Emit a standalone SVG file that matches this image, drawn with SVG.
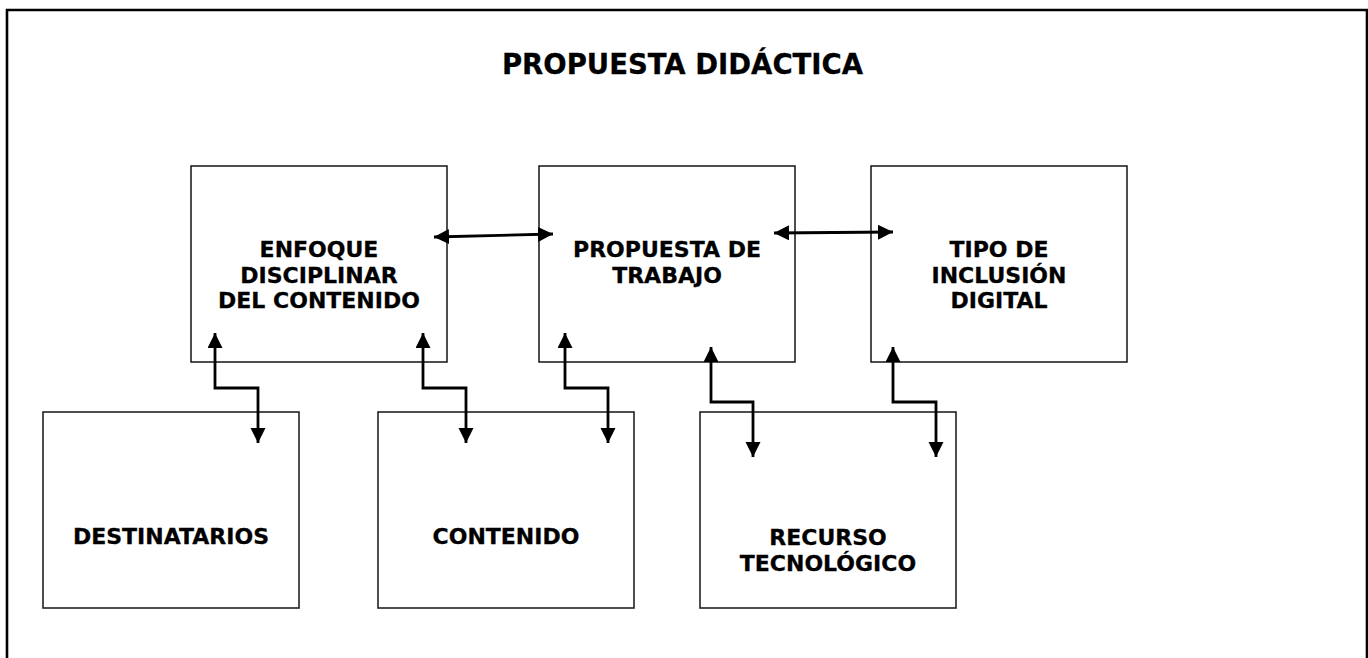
<svg xmlns="http://www.w3.org/2000/svg" width="1368" height="658" viewBox="0 0 1368 658">
<defs>
<style>
.box{fill:#fff;stroke:#222;stroke-width:1.6}
.lbl{font-family:"DejaVu Sans","Verdana",sans-serif;font-weight:bold;font-size:22px;fill:#000;text-anchor:middle;stroke:#000;stroke-width:0.3}
.title{font-family:"DejaVu Sans","Verdana",sans-serif;font-weight:bold;font-size:27.5px;fill:#000;text-anchor:middle;stroke:#000;stroke-width:0.3}
.con{fill:none;stroke:#000;stroke-width:2.8;marker-start:url(#ah);marker-end:url(#ah)}
</style>
<marker id="ah" markerUnits="userSpaceOnUse" markerWidth="16" markerHeight="16" viewBox="0 0 16 16" refX="15" refY="7.5" orient="auto-start-reverse">
<path d="M0,0 L15,7.5 L0,15 z" fill="#000"/>
</marker>
</defs>
<rect width="1368" height="658" fill="#fff"/>
<path d="M7,670 V10 H1367 V670" fill="none" stroke="#000" stroke-width="2.6"/>
<text class="title" x="682.5" y="74">PROPUESTA DIDÁCTICA</text>
<g id="enfoque">
<rect class="box" x="191" y="166" width="256" height="196"/>
<text class="lbl" x="319" y="257">ENFOQUE</text>
<text class="lbl" x="319" y="282.5">DISCIPLINAR</text>
<text class="lbl" x="319" y="308">DEL CONTENIDO</text>
</g>
<g id="propuesta">
<rect class="box" x="539" y="166" width="256" height="196"/>
<text class="lbl" x="667" y="257">PROPUESTA DE</text>
<text class="lbl" x="667" y="282.5">TRABAJO</text>
</g>
<g id="tipo">
<rect class="box" x="871" y="166" width="256" height="196"/>
<text class="lbl" x="999" y="257">TIPO DE</text>
<text class="lbl" x="999" y="282.5">INCLUSIÓN</text>
<text class="lbl" x="999" y="308">DIGITAL</text>
</g>
<g id="destinatarios">
<rect class="box" x="43" y="412" width="256" height="196"/>
<text class="lbl" x="171" y="544">DESTINATARIOS</text>
</g>
<g id="contenido">
<rect class="box" x="378" y="412" width="256" height="196"/>
<text class="lbl" x="506" y="544">CONTENIDO</text>
</g>
<g id="recurso">
<rect class="box" x="700" y="412" width="256" height="196"/>
<text class="lbl" x="828" y="545">RECURSO</text>
<text class="lbl" x="828" y="571">TECNOLÓGICO</text>
</g>
<g id="connectors">
<polyline class="con" points="434,237 553,234"/>
<polyline class="con" points="774,233 893,232"/>
<polyline class="con" points="215,333 215,388 258,388 258,443"/>
<polyline class="con" points="423,333 423,388 466,388 466,443"/>
<polyline class="con" points="565,333 565,388 608,388 608,443"/>
<polyline class="con" points="711,347 711,402 753,402 753,457"/>
<polyline class="con" points="893,347 893,402 936,402 936,457"/>
</g>
</svg>
